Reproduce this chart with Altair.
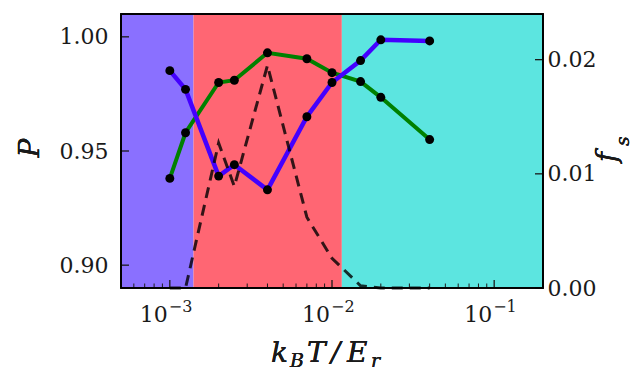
import altair as alt
import pandas as pd

# ---- data ----
temps = [0.001, 0.00125, 0.002, 0.0025, 0.004, 0.007, 0.01, 0.015, 0.02, 0.04]
p_blue = [0.9852, 0.977, 0.939, 0.944, 0.933, 0.965, 0.980, 0.9896, 0.9987, 0.9982]
p_green = [0.938, 0.958, 0.980, 0.981, 0.993, 0.9904, 0.9843, 0.9804, 0.9735, 0.955]
f_s = [0.0, 0.0, 0.0127, 0.0089, 0.0195, 0.0062, 0.0026, 0.0002, 0.0, 0.0]

band_names = ["low", "mid", "high"]
band_start = [5e-4, 1.4e-3, 1.15e-2]
band_end = [1.4e-3, 1.15e-2, 0.2]
band_colors = ["#8a70ff", "#ff6673", "#5ce5e0"]

x_major = [1e-3, 1e-2, 1e-1]
x_exp = ["−3", "−2", "−1"]
x_minor = [6e-4, 7e-4, 8e-4, 9e-4,
           2e-3, 3e-3, 4e-3, 5e-3, 6e-3, 7e-3, 8e-3, 9e-3,
           2e-2, 3e-2, 4e-2, 5e-2, 6e-2, 7e-2, 8e-2, 9e-2]
p_ticks = [0.90, 0.95, 1.00]
fs_ticks = [0.00, 0.01, 0.02]

W, H = 422, 274
FONT = "DejaVu Serif"
TXT = "#1a1a1a"

xscale = alt.Scale(type="log", domain=[5e-4, 0.2])
pscale = alt.Scale(domain=[0.89, 1.01])
fscale = alt.Scale(domain=[0.0, 0.024])

df = pd.DataFrame({"T": temps, "blue": p_blue, "green": p_green, "fs": f_s})
bands = pd.DataFrame({"band": band_names, "x0": band_start, "x1": band_end})
majors = pd.DataFrame({"t": x_major, "e": x_exp})
minors = pd.DataFrame({"t": x_minor})
pt = pd.DataFrame({"v": p_ticks})
ft = pd.DataFrame({"v": fs_ticks})

bg = alt.Chart(bands).mark_rect().encode(
    x=alt.X("x0:Q", scale=xscale, axis=None),
    x2="x1:Q",
    y=alt.value(0), y2=alt.value(H),
    color=alt.Color("band:N", scale=alt.Scale(domain=band_names, range=band_colors), legend=None),
)

green = alt.Chart(df).mark_line(color="#008000", strokeWidth=4).encode(
    x=alt.X("T:Q", scale=xscale, axis=None),
    y=alt.Y("green:Q", scale=pscale,
            axis=alt.Axis(title=None, values=p_ticks, format=".2f", ticks=False, domain=False,
                          grid=False, labelFont=FONT, labelFontSize=22, labelColor=TXT,
                          labelPadding=13)),
)
green_pts = alt.Chart(df).mark_circle(color="black", size=80, opacity=1).encode(
    x=alt.X("T:Q", scale=xscale, axis=None),
    y=alt.Y("green:Q", scale=pscale, axis=None),
)
blue_base = alt.Chart(df).encode(
    x=alt.X("T:Q", scale=xscale, axis=None),
    y=alt.Y("blue:Q", scale=pscale, axis=None),
)
blue = blue_base.mark_line(color="#4400ff", strokeWidth=4.5)
blue_pts = blue_base.mark_circle(color="black", size=80, opacity=1)

dashed = alt.Chart(df).mark_line(color="black", opacity=0.8, strokeWidth=3, strokeDash=[11, 7]).encode(
    x=alt.X("T:Q", scale=xscale, axis=None),
    y=alt.Y("fs:Q", scale=fscale,
            axis=alt.Axis(title=None, orient="right", values=fs_ticks, format=".2f", ticks=False,
                          domain=False, grid=False, labelFont=FONT, labelFontSize=22,
                          labelColor=TXT, labelPadding=4)),
)

xmaj_ticks = alt.Chart(majors).mark_rule(color=TXT, strokeWidth=1.3).encode(
    x=alt.X("t:Q", scale=xscale, axis=None), y=alt.value(H), y2=alt.value(H - 8))
xmin_ticks = alt.Chart(minors).mark_rule(color=TXT, strokeWidth=1).encode(
    x=alt.X("t:Q", scale=xscale, axis=None), y=alt.value(H), y2=alt.value(H - 4.5))
p_tick_rules = alt.Chart(pt).mark_rule(color=TXT, strokeWidth=1.3).encode(
    y=alt.Y("v:Q", scale=pscale, axis=None), x=alt.value(0), x2=alt.value(8))
f_tick_rules = alt.Chart(ft).mark_rule(color=TXT, strokeWidth=1.3).encode(
    y=alt.Y("v:Q", scale=fscale, axis=None), x=alt.value(W - 8), x2=alt.value(W))

ten = alt.Chart(majors).mark_text(font=FONT, fontSize=22, align="right", baseline="alphabetic",
                                  dx=-2, color=TXT).encode(
    x=alt.X("t:Q", scale=xscale, axis=None), y=alt.value(H + 34), text=alt.value("10"))
expo = alt.Chart(majors).mark_text(font=FONT, fontSize=16, align="left", baseline="alphabetic",
                                   dx=-1, color=TXT).encode(
    x=alt.X("t:Q", scale=xscale, axis=None), y=alt.value(H + 24), text="e:N")

frame = alt.Chart(pt).mark_rect(fillOpacity=0, stroke="black", strokeWidth=1.6).encode(
    x=alt.value(0), x2=alt.value(W), y=alt.value(0), y2=alt.value(H))


def label(txt, x, y, size, angle=0, align="left", baseline="alphabetic"):
    return alt.Chart(pt).mark_text(font=FONT, fontSize=size, fontStyle="italic", align=align,
                                   baseline=baseline, angle=angle, color=TXT).encode(
        x=alt.value(x), y=alt.value(y), text=alt.value(txt))


titles = [
    label("k", 150, 348, 28),
    label("B", 169, 353, 19),
    label("T", 186, 348, 28),
    label("/", 210, 348, 28),
    label("E", 226, 348, 28),
    label("r", 250, 353, 19),
    label("P", -90, 134, 28, angle=270, align="center", baseline="middle"),
    label("f", 487, 143, 28, angle=270, align="center", baseline="middle"),
    label("s", 502, 127, 19, angle=270, align="center", baseline="middle"),
]

chart = alt.layer(
    bg, green, green_pts, blue, blue_pts, dashed, xmaj_ticks, xmin_ticks, p_tick_rules,
    f_tick_rules, ten, expo, frame, *titles
).resolve_scale(y="independent").properties(
    width=W, height=H,
    autosize=alt.AutoSizeParams(type="none"),
    padding={"left": 113, "top": 6, "right": 90, "bottom": 86},
).configure_view(stroke=None)

chart.save("out.html", embed_options={"renderer": "svg", "actions": False})
